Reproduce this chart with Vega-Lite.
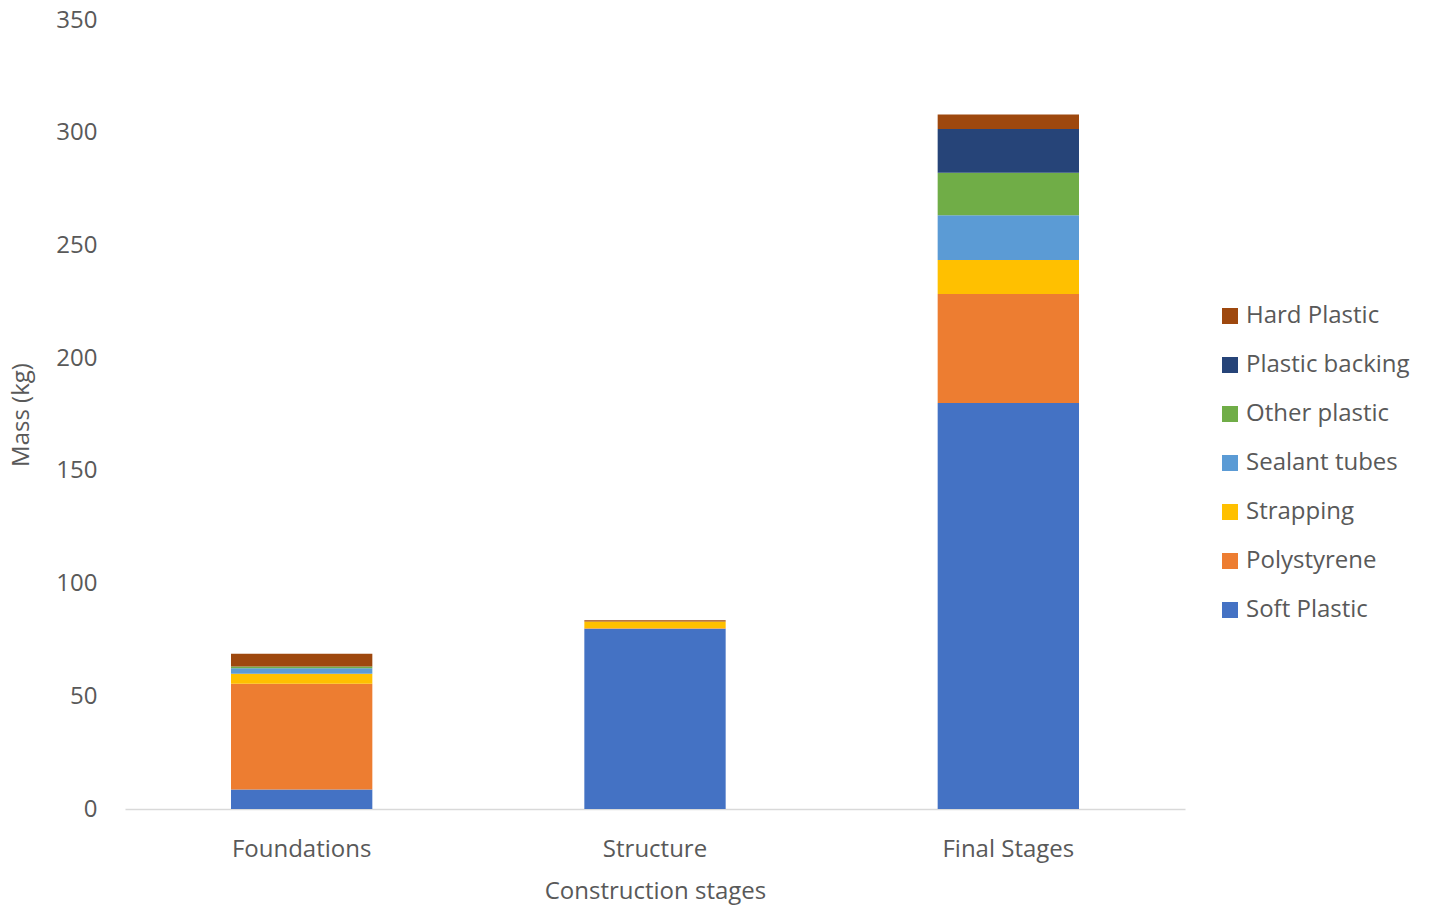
{
  "$schema": "https://vega.github.io/schema/vega-lite/v6.json",
  "width": 1060,
  "height": 789,
  "autosize": "none",
  "padding": {"top": 20, "left": 125, "right": 245, "bottom": 105},
  "background": "white",
  "config": {
    "view": {"stroke": null},
    "font": "Open Sans",
    "axis": {"labelColor": "#595959", "titleColor": "#595959", "labelFont": "Open Sans", "titleFont": "Open Sans", "titleFontWeight": "normal"}
  },
  "data": {
    "values": [
      {"stage": "Foundations", "material": "Soft Plastic", "stack": 1, "mass": 8.7},
      {"stage": "Foundations", "material": "Polystyrene", "stack": 2, "mass": 46.9},
      {"stage": "Foundations", "material": "Strapping", "stack": 3, "mass": 4.4},
      {"stage": "Foundations", "material": "Sealant tubes", "stack": 4, "mass": 2.4},
      {"stage": "Foundations", "material": "Other plastic", "stack": 5, "mass": 0.8},
      {"stage": "Foundations", "material": "Plastic backing", "stack": 6, "mass": 0},
      {"stage": "Foundations", "material": "Hard Plastic", "stack": 7, "mass": 5.7},
      {"stage": "Structure", "material": "Soft Plastic", "stack": 1, "mass": 80.0},
      {"stage": "Structure", "material": "Polystyrene", "stack": 2, "mass": 0.2},
      {"stage": "Structure", "material": "Strapping", "stack": 3, "mass": 3.0},
      {"stage": "Structure", "material": "Sealant tubes", "stack": 4, "mass": 0},
      {"stage": "Structure", "material": "Other plastic", "stack": 5, "mass": 0},
      {"stage": "Structure", "material": "Plastic backing", "stack": 6, "mass": 0},
      {"stage": "Structure", "material": "Hard Plastic", "stack": 7, "mass": 0.5},
      {"stage": "Final Stages", "material": "Soft Plastic", "stack": 1, "mass": 180.1},
      {"stage": "Final Stages", "material": "Polystyrene", "stack": 2, "mass": 48.3},
      {"stage": "Final Stages", "material": "Strapping", "stack": 3, "mass": 15.1},
      {"stage": "Final Stages", "material": "Sealant tubes", "stack": 4, "mass": 19.9},
      {"stage": "Final Stages", "material": "Other plastic", "stack": 5, "mass": 18.8},
      {"stage": "Final Stages", "material": "Plastic backing", "stack": 6, "mass": 19.4},
      {"stage": "Final Stages", "material": "Hard Plastic", "stack": 7, "mass": 6.5}
    ]
  },
  "mark": {"type": "bar", "width": {"band": 0.4}},
  "encoding": {
    "x": {
      "field": "stage",
      "type": "nominal",
      "sort": ["Foundations", "Structure", "Final Stages"],
      "scale": {"paddingInner": 0, "paddingOuter": 0},
      "title": "Construction stages",
      "axis": {
        "labelAngle": 0,
        "labelFontSize": 24,
        "labelPadding": 28,
        "titleFontSize": 24,
        "titlePadding": 18,
        "ticks": false,
        "domainColor": "#d9d9d9",
        "domainWidth": 1.5
      }
    },
    "y": {
      "field": "mass",
      "type": "quantitative",
      "stack": "zero",
      "scale": {"domain": [0, 350]},
      "title": "Mass (kg)",
      "axis": {
        "values": [0, 50, 100, 150, 200, 250, 300, 350],
        "grid": false,
        "domain": false,
        "ticks": false,
        "labelFontSize": 24,
        "labelPadding": 28,
        "titleFontSize": 24,
        "titlePadding": 22
      }
    },
    "order": {"field": "stack", "type": "quantitative"},
    "color": {
      "field": "material",
      "type": "nominal",
      "scale": {
        "domain": ["Hard Plastic", "Plastic backing", "Other plastic", "Sealant tubes", "Strapping", "Polystyrene", "Soft Plastic"],
        "range": ["#9e480e", "#264478", "#70ad47", "#5b9bd5", "#ffc000", "#ed7d31", "#4472c4"]
      },
      "legend": {
        "title": null,
        "orient": "none",
        "legendX": 1093,
        "legendY": 284,
        "symbolType": "square",
        "symbolSize": 256,
        "symbolStrokeWidth": 0,
        "labelFontSize": 24,
        "labelColor": "#595959",
        "labelFont": "Open Sans",
        "labelOffset": 4,
        "labelLimit": 300,
        "rowPadding": 25
      }
    }
  }
}
